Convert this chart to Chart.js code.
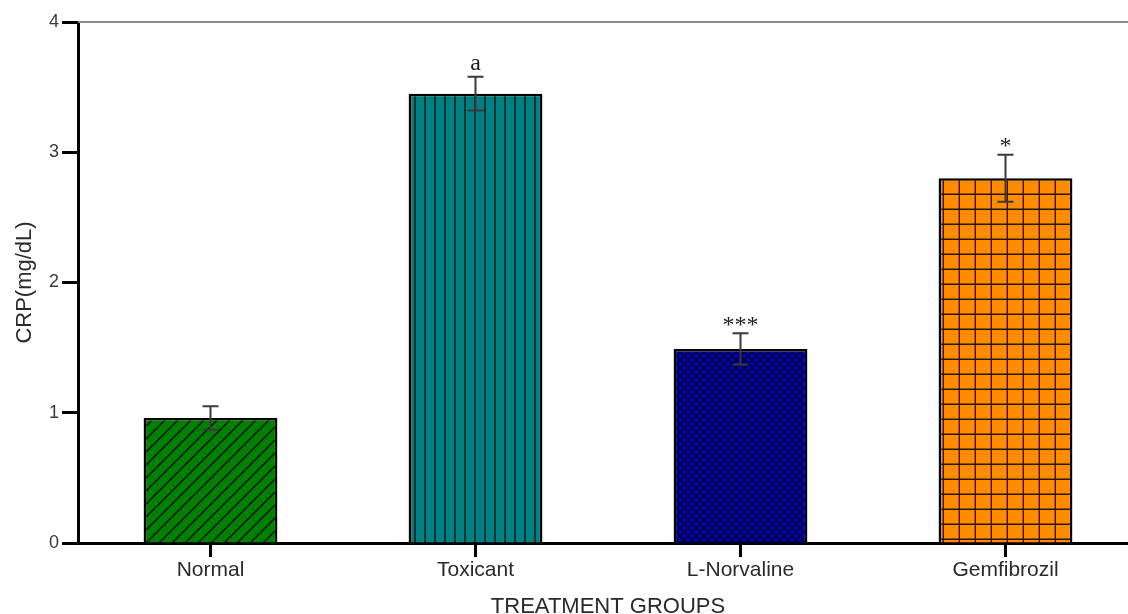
<!DOCTYPE html>
<html>
<head>
<meta charset="utf-8">
<script src="https://cdn.jsdelivr.net/npm/chart.js@4.4.0/dist/chart.umd.min.js"></script>
<style>
  html, body { margin: 0; padding: 0; background: #fff; overflow: hidden; }
  #wrap { width: 1128px; height: 614px; overflow: hidden; }
  #box { width: 1140px; height: 624px; position: relative; }
</style>
</head>
<body>
<div id="wrap"><div id="box"><canvas id="crp"></canvas></div></div>
<script>
// CRP by treatment group, mean ± SEM
const groups = ['Normal', 'Toxicant', 'L-Norvaline', 'Gemfibrozil'];
const crpMean = [0.96, 3.45, 1.49, 2.80];
const crpSem = [0.09, 0.13, 0.12, 0.18];
const marks = ['', 'a', '***', '*'];
const yTicks = [0, 1, 2, 3, 4];

const canvas = document.getElementById('crp');
const ctx0 = canvas.getContext('2d');

// small repeating tiles for the hatched fills
function hatch(w, h, fill, draw, lw) {
  const c = document.createElement('canvas');
  c.width = w; c.height = h;
  const g = c.getContext('2d');
  g.fillStyle = fill;
  g.fillRect(0, 0, w, h);
  g.strokeStyle = 'rgba(0,0,0,0.85)';
  g.lineWidth = lw || 1.4;
  g.beginPath();
  draw(g, w, h);
  g.stroke();
  return ctx0.createPattern(c, 'repeat');
}
const slash = (g, w, h) => {
  g.moveTo(0, h); g.lineTo(w, 0);
  g.moveTo(-2, 2); g.lineTo(2, -2);
  g.moveTo(w - 2, h + 2); g.lineTo(w + 2, h - 2);
};
const cross = (g, w, h) => {
  slash(g, w, h);
  g.moveTo(0, 0); g.lineTo(w, h);
  g.moveTo(-2, h - 2); g.lineTo(2, h + 2);
  g.moveTo(w - 2, -2); g.lineTo(w + 2, 2);
};
const vlines = (g, w, h) => { g.moveTo(w / 2, 0); g.lineTo(w / 2, h); };
const grid = (g, w, h) => {
  g.moveTo(w - 0.7, 0); g.lineTo(w - 0.7, h);
  g.moveTo(0, h - 0.7); g.lineTo(w, h - 0.7);
};

const fills = [
  hatch(13, 13, '#008000', slash, 1.5),
  hatch(10, 10, '#008080', vlines),
  hatch(8, 8, '#0000b4', cross, 1.3),
  hatch(16, 15, '#ff8c00', grid)
];

const errorBars = {
  id: 'errorBars',
  afterDatasetsDraw(chart) {
    const { ctx, scales: { x, y } } = chart;
    ctx.save();
    ctx.strokeStyle = '#3a3a3a';
    ctx.lineWidth = 2;
    crpMean.forEach((m, i) => {
      const px = x.getPixelForValue(i);
      const hi = y.getPixelForValue(m + crpSem[i]);
      const lo = y.getPixelForValue(m - crpSem[i]);
      ctx.beginPath();
      ctx.moveTo(px, hi); ctx.lineTo(px, lo);
      ctx.moveTo(px - 8, hi); ctx.lineTo(px + 8, hi);
      ctx.moveTo(px - 8, lo); ctx.lineTo(px + 8, lo);
      ctx.stroke();
      if (marks[i]) {
        ctx.font = '24px "Liberation Serif"';
        ctx.fillStyle = '#222';
        ctx.textAlign = 'center';
        ctx.textBaseline = 'alphabetic';
        const mt = ctx.measureText(marks[i]);
        const yb = hi - 12 + (mt.actualBoundingBoxAscent - mt.actualBoundingBoxDescent) / 2;
        ctx.fillText(marks[i], px, yb);
      }
    });
    ctx.restore();
  }
};

// thin grey rule along the top of the plot
const topRule = {
  id: 'topRule',
  beforeDatasetsDraw(chart) {
    const { ctx, chartArea, scales: { y } } = chart;
    const yy = y.getPixelForValue(yTicks[yTicks.length - 1]);
    ctx.save();
    ctx.strokeStyle = '#8a8a8a';
    ctx.lineWidth = 2;
    ctx.beginPath();
    ctx.moveTo(chartArea.left, yy);
    ctx.lineTo(chart.width, yy);
    ctx.stroke();
    ctx.restore();
  }
};

Chart.defaults.font.family = '"Liberation Sans", Arial, sans-serif';

new Chart(canvas, {
  type: 'bar',
  data: {
    labels: groups,
    datasets: [{
      data: crpMean,
      backgroundColor: fills,
      borderColor: '#000',
      borderWidth: 2.5,
      barPercentage: 0.505,
      categoryPercentage: 1
    }]
  },
  options: {
    responsive: true,
    maintainAspectRatio: false,
    animation: false,
    devicePixelRatio: 1,
    layout: { padding: { top: 22, right: 2, left: 0, bottom: 0 } },
    plugins: { legend: { display: false }, tooltip: { enabled: false } },
    scales: {
      x: {
        ticks: { color: '#2a2a2a', font: { size: 21 }, padding: 1 },
        grid: { offset: false, drawOnChartArea: false, drawTicks: true, tickLength: 14, tickColor: '#000', tickWidth: 3 },
        border: { color: '#000', width: 3 },
        title: { display: true, text: 'TREATMENT GROUPS', color: '#2a2a2a', font: { size: 22 }, padding: { top: 0, bottom: 4 } },
        afterFit(s) { s.height = 81; }
      },
      y: {
        min: 0,
        max: 4,
        afterBuildTicks(s) { s.ticks = yTicks.map(v => ({ value: v })); },
        ticks: { color: '#3a3a3a', font: { size: 18 }, padding: 3 },
        grid: { drawOnChartArea: false, drawTicks: true, tickLength: 16, tickColor: '#000', tickWidth: 3 },
        border: { color: '#000', width: 3 },
        title: { display: true, text: 'CRP(mg/dL)', color: '#2a2a2a', font: { size: 22 }, padding: { top: 12, bottom: 0 } },
        afterFit(s) { s.width = 78; }
      }
    }
  },
  plugins: [topRule, errorBars]
});
</script>
</body>
</html>
